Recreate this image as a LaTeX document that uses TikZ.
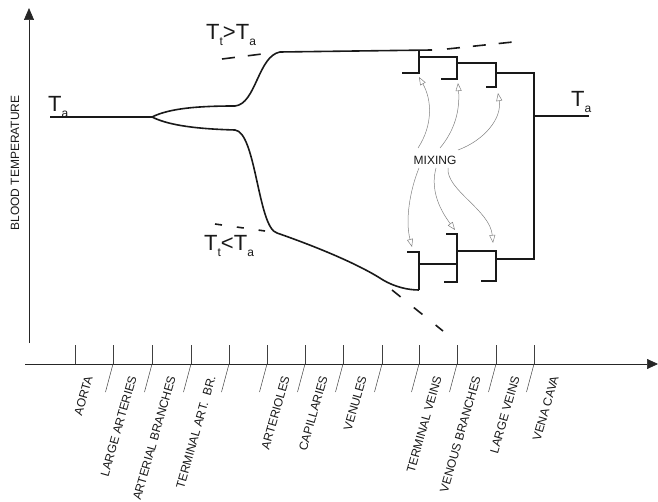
\documentclass[tikz,border=0pt]{standalone}
\usepackage{fontspec}
\setmainfont{Liberation Sans}
\usepackage{tikz}
\usetikzlibrary{arrows.meta}
\tikzset{curve/.style={line width=1.6pt, black!90}}
\tikzset{ext/.style={line width=1.6pt, black!90, dash pattern=on 13pt off 13pt}}
\tikzset{tick/.style={line width=0.5pt, black!75}}
\tikzset{organ/.style={rotate=74, anchor=east, inner sep=0pt, black!90, font=\fontsize{12}{12}\selectfont}}
\tikzset{templabel/.style={anchor=base west, inner sep=0pt, black!90, font=\fontsize{22}{22}\selectfont}}
\tikzset{mixarrow/.style={gray, line width=0.5pt, -{Triangle[open, length=8pt, width=6pt]}}}
\newcommand{\Tsub}[1]{T\raisebox{-6pt}{\fontsize{12}{12}\selectfont #1}}

\begin{document}
\begin{tikzpicture}[x=1pt, y=-1pt]
\useasboundingbox (0,0) rectangle (658,502);

\draw[line width=0.7pt, black!85, -{Triangle[length=12pt, width=10pt]}] (29,343) -- (29,8);
\draw[line width=0.7pt, black!85, -{Triangle[length=11pt, width=10pt]}] (25,364) -- (658,364);
\node[rotate=90, inner sep=0pt, black!90, font=\fontsize{12}{12}\selectfont] (ylab) at (15,163) {BLOOD TEMPERATURE};

\foreach \x in {75,113,152,191,229,267,305,343,382,419,457,496,534}
  \draw[tick] (\x,345) -- (\x,364);
\foreach \x in {113,152,191,229,267,305,343,382,419,457,496,534}
  \draw[tick] (\x,364) -- ++(-7.5,28);

\foreach \x/\name in {89/AORTA, 133/LARGE ARTERIES, 172/ARTERIAL BRANCHES,
    212/TERMINAL ART.\ \ BR., 286/ARTERIOLES, 324/CAPILLARIES, 363/VENULES,
    438/TERMINAL VEINS, 477/VENOUS BRANCHES, 516/LARGE VEINS, 555/VENA CAVA}
  \node[organ] at (\x,376) {\name};

\node[templabel] (tin) at (48,112) {\Tsub{a}};
\node[templabel] (tout) at (571,107) {\Tsub{a}};
\node[templabel] (hot) at (206,40) {\Tsub{t}>\Tsub{a}};
\node[templabel] (cold) at (204,251) {\Tsub{t}<\Tsub{a}};

\draw[curve] (50,117) -- (152,117);
\draw[curve] (152,117) .. controls (170,108) and (200,106) .. (235,106)
  .. controls (256,104) and (258,56) .. (280,52) -- (432,50);
\draw[curve] (152,117) .. controls (170,126) and (200,129) .. (235,130)
  .. controls (256,132) and (258,228) .. (277,233)
  .. controls (320,248) and (360,265) .. (383,280)
  .. controls (395,287) and (408,290) .. (419,290);
\draw[ext] (222,59) -- (270,53);
\draw[ext] (447,49) -- (513,42);
\draw[ext, dash pattern=on 7pt off 15pt] (215,224) -- (265,231);
\draw[ext, dash pattern=on 11pt off 17pt] (392,290) -- (443,331);

\draw[curve] (419,51) -- (419,73) -- (402,73);
\draw[curve] (419,57) -- (457,57) -- (457,79) -- (441,79);
\draw[curve] (457,63) -- (496,63) -- (496,87) -- (486,87);
\draw[curve] (496,73) -- (534,73) -- (534,259) -- (496,259);
\draw[curve] (534,116) -- (589,116);
\draw[curve] (419,290) -- (419,252) -- (407,252);
\draw[curve] (419,264) -- (457,264);
\draw[curve] (446,234) -- (457,234) -- (457,282) -- (444,282);
\draw[curve] (457,251) -- (496,251) -- (496,281) -- (481,281);

\node[inner sep=0pt, black!90, font=\fontsize{12}{12}\selectfont] (mix) at (435,160) {MIXING};
\coordinate (u1) at (419,77);
\coordinate (u2) at (458,83);
\coordinate (u3) at (498,93);
\coordinate (d1) at (412,247);
\coordinate (d2) at (455,230);
\coordinate (d3) at (493,243);
\draw[mixarrow] (418,148) .. controls (433,125) and (432,100) .. (u1);
\draw[mixarrow] (440,148) .. controls (455,130) and (460,110) .. (u2);
\draw[mixarrow] (458,150) .. controls (485,140) and (502,118) .. (u3);
\draw[mixarrow] (419,168) .. controls (410,190) and (405,220) .. (d1);
\draw[mixarrow] (436,168) .. controls (430,190) and (440,210) .. (d2);
\draw[mixarrow] (448,168) .. controls (446,190) and (490,210) .. (d3);

\end{tikzpicture}
\end{document}
